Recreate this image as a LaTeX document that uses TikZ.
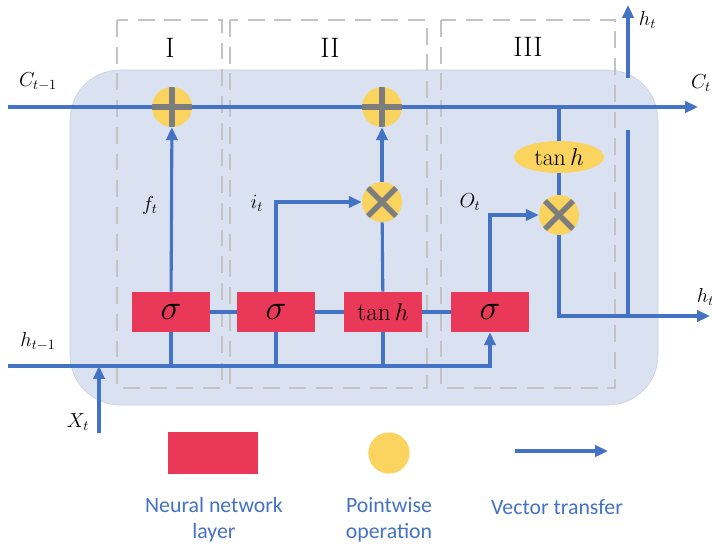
\documentclass[tikz,border=0pt]{standalone}
\usepackage{fontspec}
\newfontfamily\legendfont{Carlito}
\usetikzlibrary{arrows.meta,positioning,shapes.geometric}
\definecolor{cellbg}{RGB}{218,225,241}
\definecolor{flowblue}{RGB}{68,114,196}
\definecolor{layerred}{RGB}{233,56,88}
\definecolor{opyellow}{RGB}{250,212,95}
\definecolor{opgray}{RGB}{125,125,125}
\definecolor{gategray}{RGB}{195,195,195}

\begin{document}
\begin{tikzpicture}[x=0.025cm,y=-0.025cm,>={Triangle[length=3.2mm,width=2.8mm]},
  flow/.style={draw=flowblue,line width=2.2pt},
  nnlayer/.style={fill=layerred,minimum width=1.95cm,minimum height=1cm,inner sep=0pt,font=\fontsize{18}{20}\selectfont},
  pwop/.style={circle,fill=opyellow,minimum size=1cm,inner sep=0pt},
  plusop/.style={pwop,path picture={\draw[opgray,line width=3.8pt] (path picture bounding box.north)--(path picture bounding box.south) (path picture bounding box.west)--(path picture bounding box.east);}},
  crossop/.style={pwop,path picture={\draw[opgray,line width=3.8pt] (path picture bounding box.north west)--(path picture bounding box.south east) (path picture bounding box.north east)--(path picture bounding box.south west);}},
  gatebox/.style={draw=gategray,line width=1.2pt,dash pattern=on 12pt off 7pt},
  lbl/.style={font=\fontsize{14.5}{16}\selectfont},
  legendtxt/.style={text=flowblue,align=center,font=\legendfont\fontsize{15.5}{18.5}\selectfont}]
\useasboundingbox (0,0) rectangle (712,548);
% cell and the three gates
\draw[fill=cellbg,draw=cellbg!92!black,rounded corners=1.25cm] (70,70) rectangle (658,405);
\draw[gatebox] (117,20) rectangle (222,388);
\draw[gatebox] (230,20) rectangle (427,388);
\draw[gatebox] (441,20) rectangle (615,388);
\node[font=\fontsize{20}{22}\selectfont] (gate1) at (170,48) {I};
\node[font=\fontsize{20}{22}\selectfont] (gate2) at (330,48) {II};
\node[font=\fontsize{20}{22}\selectfont] (gate3) at (528,47) {III};

% pointwise operations
\node[plusop] (plus1) at (172,107) {};
\node[plusop] (plus2) at (382,107) {};
\node[crossop] (cross1) at (382,202) {};
\node[crossop] (cross2) at (559,215) {};
\node[ellipse,fill=opyellow,minimum width=2.25cm,minimum height=0.8cm,inner sep=0pt,font=\fontsize{17}{19}\selectfont] (tanhc) at (559,157) {$\tan h$};

% layers
\node[nnlayer,font=\fontsize{24}{26}\selectfont] (sig1) at (171,312) {$\sigma$};
\node[nnlayer,font=\fontsize{24}{26}\selectfont] (sig2) at (276,312) {$\sigma$};
\node[nnlayer] (tanhl) at (383,312) {$\tan h$};
\node[nnlayer,font=\fontsize{24}{26}\selectfont] (sig3) at (490,312) {$\sigma$};

\coordinate (cin) at (8,107);
\coordinate (cout) at (698,107);
\coordinate (hin) at (8,366);
\coordinate (xin) at (99,433);
\coordinate (hout) at (710,316);
\coordinate (hbranch) at (628,316);
\coordinate (hgap1) at (628,130);
\coordinate (hgap2) at (628,78);
\coordinate (hup) at (628,5);

% cell state
\draw[flow] (cin) -- (plus1) (plus1) -- (plus2);
\draw[flow,->] (plus2) -- (cout);
\draw[flow] (tanhc.north) -- (tanhc |- cin);
\draw[flow] (tanhc) -- (cross2);
% gates
\draw[flow,->] (sig1) -- (plus1);
\draw[flow,->] (sig2.north) |- (cross1);
\draw[flow] (tanhl) -- (cross1);
\draw[flow,->] (cross1) -- (plus2);
\draw[flow,->] (sig3.north) |- (cross2);
\draw[flow,->] (cross2) |- (hout);
\draw[flow] (hbranch) -- (hgap1);
\draw[flow,->] (hgap2) -- (hup);
\draw[flow] (sig1) -- (sig2) (sig2) -- (tanhl) (tanhl) -- (sig3);
% inputs
\draw[flow,->] (hin) -| (sig3);
\foreach \g in {sig1,sig2,tanhl}
  \draw[flow] (\g) -- (\g |- hin);
\draw[flow,->] (xin) -- (xin |- hin);

\node[lbl] (lc0) at (38,82) {$C_{t-1}$};
\node[lbl] (lc1) at (701,83) {$C_t$};
\node[lbl] (lf) at (150,205) {$f_t$};
\node[lbl] (li) at (257,203) {$i_t$};
\node[lbl] (lo) at (470,202) {$O_t$};
\node[lbl] (lh0) at (38,342) {$h_{t-1}$};
\node[lbl] (lx) at (78,422) {$X_t$};
\node[lbl,anchor=west] (lhup) at (634,20) {$h_t$};
\node[lbl,anchor=west] (lhout) at (692,297) {$h_t$};

% legend
\node[fill=layerred,minimum width=2.25cm,minimum height=1.03cm] (keylayer) at (213,453) {};
\node[circle,fill=opyellow,minimum size=1.03cm,inner sep=0pt] (keyop) at (389,453) {};
\coordinate (keyfrom) at (515,451);
\coordinate (keyto) at (608,451);
\draw[flow,->] (keyfrom) -- (keyto);
\node[legendtxt] (keylayertxt) at (214,520) {Neural network\\layer};
\node[legendtxt] (keyoptxt) at (389,520) {Pointwise\\operation};
\node[legendtxt] (keyflowtxt) at (557,507) {Vector transfer};
\end{tikzpicture}
\end{document}
